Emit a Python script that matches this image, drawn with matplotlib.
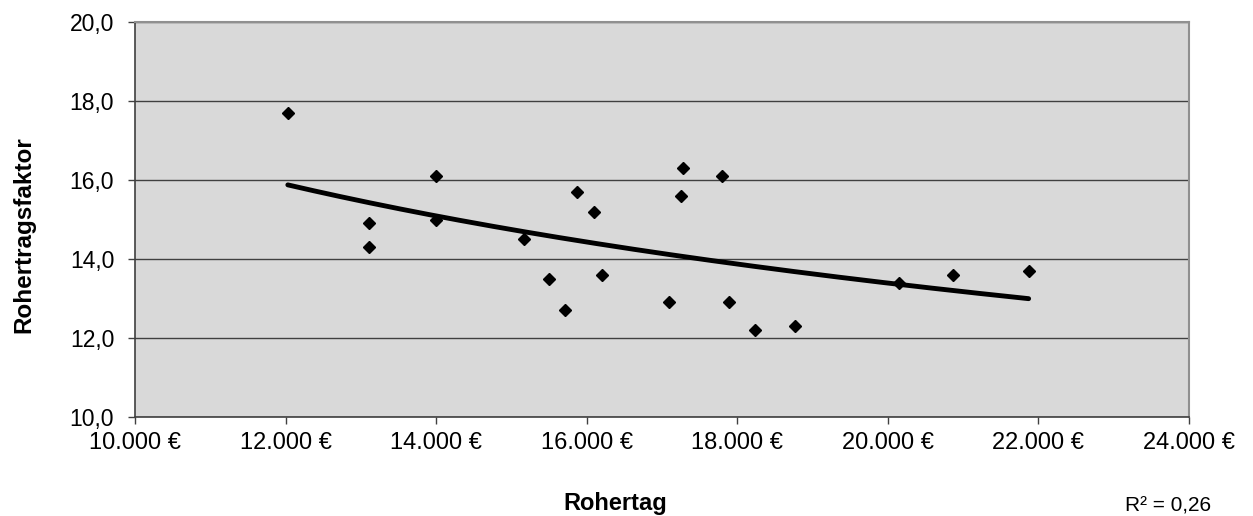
import numpy as np
import matplotlib.pyplot as plt
from matplotlib.ticker import FuncFormatter, MultipleLocator

plt.rcParams['font.family'] = ['Liberation Sans', 'DejaVu Sans']

# Rohertrag (EUR) und Rohertragsfaktor
rohertrag = [12030, 13110, 13110, 14000, 14000, 15170, 15500, 15710, 15870, 16100,
             16200, 17090, 17280, 17255, 17800, 17890, 18240, 18760, 20150, 20860, 21870]
faktor = [17.7, 14.9, 14.3, 16.1, 15.0, 14.5, 13.5, 12.7, 15.7, 15.2,
          13.6, 12.9, 16.3, 15.6, 16.1, 12.9, 12.2, 12.3, 13.4, 13.6, 13.7]
r2_text = 'R² = 0,26'

x = np.array(rohertrag, dtype=float)
y = np.array(faktor, dtype=float)

# Potenz-Trendlinie wie in Excel (Fit im log-log Raum)
b, lna = np.polyfit(np.log(x), np.log(y), 1)
xt = np.linspace(x.min(), x.max(), 200)
yt = np.exp(lna) * xt ** b

fig = plt.figure(figsize=(12.53, 5.16), dpi=100)
ax = fig.add_axes([135/1253, 99/516, (1189-135)/1253, (417-22)/516])
ax.set_facecolor('#d9d9d9')

ax.plot(xt, yt, color='black', linewidth=3.5, solid_capstyle='round', zorder=2)
ax.plot(x, y, linestyle='none', marker='D', markersize=6.5, color='black', zorder=3)

ax.set_xlim(10000, 24000)
ax.set_ylim(10, 20)
ax.xaxis.set_major_locator(MultipleLocator(2000))
ax.yaxis.set_major_locator(MultipleLocator(2))
ax.xaxis.set_major_formatter(FuncFormatter(lambda v, p: '{:,.0f} €'.format(v).replace(',', '.')))
ax.yaxis.set_major_formatter(FuncFormatter(lambda v, p: '{:.1f}'.format(v).replace('.', ',')))
ax.grid(axis='y', color='#404040', linewidth=1)
ax.set_axisbelow(True)

for s in ['top', 'right']:
    ax.spines[s].set_color('#909090')
    ax.spines[s].set_linewidth(1.5)
for s in ['left', 'bottom']:
    ax.spines[s].set_color('#404040')
    ax.spines[s].set_linewidth(1.2)
ax.tick_params(axis='both', direction='out', length=5, width=1, color='#404040')
ax.tick_params(axis='x', labelsize=17, pad=6)
ax.tick_params(axis='y', labelsize=16.5, pad=10)

fig.text(24/1253, 1-235/516, 'Rohertragsfaktor', fontsize=17.5, fontweight='bold',
         rotation=90, ha='center', va='center')
fig.text(615/1253, 1-510/516, 'Rohertag', fontsize=17, fontweight='bold', ha='center', va='baseline')
fig.text(1168/1253, 1-511/516, r2_text, fontsize=15, ha='center', va='baseline')

fig.savefig('out.png', dpi=100)
